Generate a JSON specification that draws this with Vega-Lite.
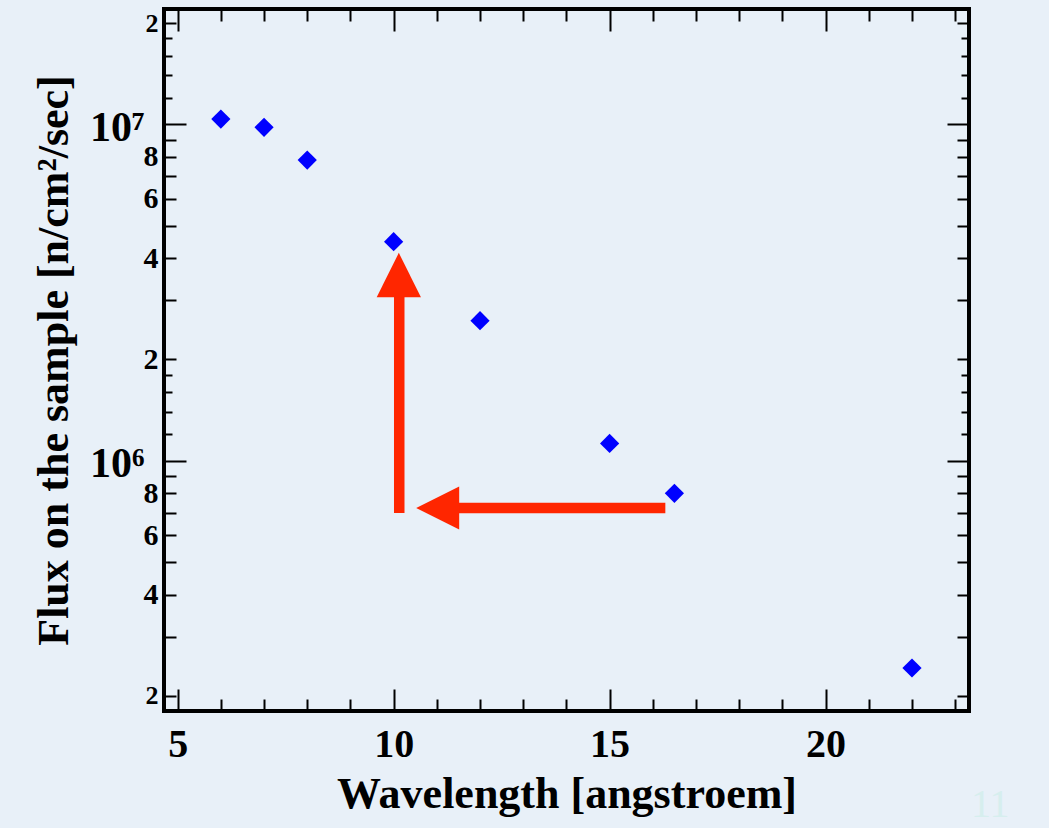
{
  "$schema": "https://vega.github.io/schema/vega-lite/v6.json",
  "width": 805,
  "height": 702,
  "autosize": {"type": "none"},
  "padding": {"left": 164, "top": 9, "right": 80, "bottom": 117},
  "background": "#e8f0f8",
  "config": {
    "view": {"stroke": "#000000", "strokeWidth": 4},
    "axis": {
      "grid": false,
      "domain": false,
      "tickColor": "#000000",
      "tickWidth": 2,
      "labelFont": "Liberation Serif",
      "labelFontWeight": "bold",
      "labelColor": "#000000",
      "titleFont": "Liberation Serif",
      "titleFontWeight": "bold",
      "titleColor": "#000000",
      "titleFontSize": 44,
      "labelOverlap": false,
      "labelBound": false,
      "labelFlush": false
    }
  },
  "datasets": {
    "flux": [
      {"wavelength": 6, "flux": 10370000},
      {"wavelength": 7, "flux": 9800000},
      {"wavelength": 8, "flux": 7830000},
      {"wavelength": 10, "flux": 4480000},
      {"wavelength": 12, "flux": 2608000},
      {"wavelength": 15, "flux": 1126000},
      {"wavelength": 16.5, "flux": 800000},
      {"wavelength": 22, "flux": 242000}
    ],
    "arrows": [
      {"arrow": "vertical", "x_start": 10.13, "y_start": 699000, "x_end": 10.13, "y_end": 3560000, "head_x": 10.12, "head_y": 3565000},
      {"arrow": "horizontal", "x_start": 16.29, "y_start": 723400, "x_end": 11.02, "y_end": 723400, "head_x": 11.02, "head_y": 723400}
    ],
    "page": [
      {"label": "11", "x": 23.81, "y": 87300}
    ]
  },
  "layer": [
    {
      "data": {"name": "flux"},
      "mark": {"type": "point", "shape": "diamond", "filled": true, "size": 370, "color": "#0000ff", "opacity": 1},
      "encoding": {
        "x": {
          "field": "wavelength", "type": "quantitative",
          "scale": {"domain": [4.684, 23.32], "nice": false, "zero": false},
          "axis": {
            "orient": "bottom",
            "values": [5,6,7,8,9,10,11,12,13,14,15,16,17,18,19,20,21,22,23],
            "title": "Wavelength [angstroem]",
            "labelExpr": "datum.value % 5 === 0 ? datum.label : ''",
            "tickSize": {"condition": {"test": "datum.value % 5 === 0", "value": -22}, "value": -12},
            "labelPadding": 35,
            "labelFontSize": 40,
            "titlePadding": -2
          }
        },
        "y": {
          "field": "flux", "type": "quantitative",
          "scale": {"type": "log", "domain": [180300, 22020000], "nice": false},
          "axis": {
            "orient": "left",
            "values": [200000,300000,400000,500000,600000,700000,800000,900000,1000000,1200000,1400000,1600000,1800000,2000000,3000000,4000000,5000000,6000000,7000000,8000000,9000000,10000000,12000000,14000000,16000000,18000000,20000000],
            "title": "Flux on the sample [n/cm²/sec]",
            "labelExpr": "datum.value === 10000000 ? '10⁷' : datum.value === 1000000 ? '10⁶' : indexof([20000000,8000000,6000000,4000000,2000000,800000,600000,400000,200000], datum.value) >= 0 ? slice('' + datum.value, 0, 1) : ''",
            "tickSize": {"condition": [
              {"test": "indexof([1000000,10000000], datum.value) >= 0", "value": -22},
              {"test": "indexof([1200000,1400000,1600000,1800000,12000000,14000000,16000000,18000000], datum.value) >= 0", "value": -8}
            ], "value": -12},
            "labelPadding": {"condition": {"test": "indexof([1000000,10000000], datum.value) >= 0", "value": 42}, "value": 18},
            "labelFontSize": {"condition": [
              {"test": "indexof([1000000,10000000], datum.value) >= 0", "value": 42},
              {"test": "indexof([200000,20000000], datum.value) >= 0", "value": 26}
            ], "value": 30},
            "labelOffset": {"condition": {"test": "indexof([1000000,10000000], datum.value) >= 0", "value": 3}, "value": 0},
            "titlePadding": 13
          }
        }
      }
    },
    {
      "data": {"name": "arrows"},
      "mark": {"type": "rule", "color": "#ff2600", "strokeWidth": 10.5, "strokeCap": "butt"},
      "encoding": {
        "x": {
          "field": "x_start", "type": "quantitative",
          "scale": {"domain": [4.684, 23.32], "nice": false, "zero": false},
          "axis": {
            "orient": "top",
            "values": [5,6,7,8,9,10,11,12,13,14,15,16,17,18,19,20,21,22,23],
            "title": null,
            "labels": false,
            "tickSize": {"condition": {"test": "datum.value % 5 === 0", "value": -22}, "value": -12}
          }
        },
        "x2": {"field": "x_end"},
        "y": {
          "field": "y_start", "type": "quantitative",
          "scale": {"type": "log", "domain": [180300, 22020000], "nice": false},
          "axis": {
            "orient": "right",
            "values": [200000,300000,400000,500000,600000,700000,800000,900000,1000000,1200000,1400000,1600000,1800000,2000000,3000000,4000000,5000000,6000000,7000000,8000000,9000000,10000000,12000000,14000000,16000000,18000000,20000000],
            "title": null,
            "labels": false,
            "tickSize": {"condition": [
              {"test": "indexof([1000000,10000000], datum.value) >= 0", "value": -22},
              {"test": "indexof([1200000,1400000,1600000,1800000,12000000,14000000,16000000,18000000], datum.value) >= 0", "value": -8}
            ], "value": -12}
          }
        },
        "y2": {"field": "y_end"}
      }
    },
    {
      "data": {"name": "arrows"},
      "transform": [{"filter": "datum.arrow === 'vertical'"}],
      "mark": {"type": "point", "shape": "M0,-1L-1,1L1,1Z", "filled": true, "size": 1960, "color": "#ff2600", "opacity": 1},
      "encoding": {
        "x": {"field": "head_x", "type": "quantitative", "scale": {"domain": [4.684, 23.32], "nice": false, "zero": false}, "axis": null},
        "y": {"field": "head_y", "type": "quantitative", "scale": {"type": "log", "domain": [180300, 22020000], "nice": false}, "axis": null}
      }
    },
    {
      "data": {"name": "arrows"},
      "transform": [{"filter": "datum.arrow === 'horizontal'"}],
      "mark": {"type": "point", "shape": "M-1,0L1,-1L1,1Z", "filled": true, "size": 1850, "color": "#ff2600", "opacity": 1},
      "encoding": {
        "x": {"field": "head_x", "type": "quantitative", "scale": {"domain": [4.684, 23.32], "nice": false, "zero": false}, "axis": null},
        "y": {"field": "head_y", "type": "quantitative", "scale": {"type": "log", "domain": [180300, 22020000], "nice": false}, "axis": null}
      }
    },
    {
      "data": {"name": "page"},
      "mark": {"type": "text", "font": "Liberation Serif", "fontSize": 40, "color": "#d6eeee", "align": "center", "baseline": "alphabetic", "clip": false},
      "encoding": {
        "text": {"field": "label"},
        "x": {"field": "x", "type": "quantitative", "scale": {"domain": [4.684, 23.32], "nice": false, "zero": false}, "axis": null},
        "y": {"field": "y", "type": "quantitative", "scale": {"type": "log", "domain": [180300, 22020000], "nice": false}, "axis": null}
      }
    }
  ],
  "resolve": {"axis": {"x": "independent", "y": "independent"}}
}
